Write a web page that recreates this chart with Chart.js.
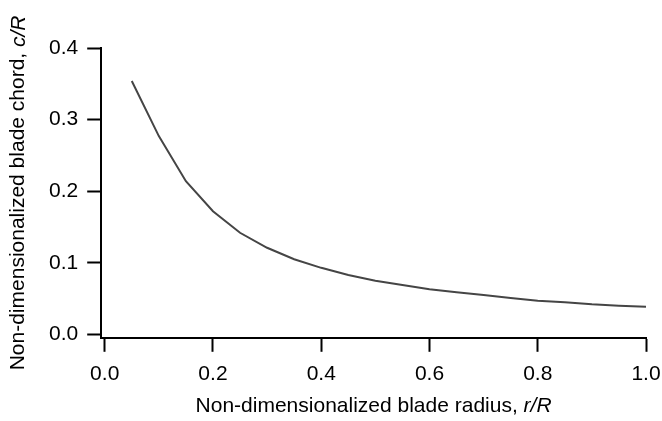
<!DOCTYPE html>
<html>
<head>
<meta charset="utf-8">
<script src="https://cdn.jsdelivr.net/npm/chart.js@4/dist/chart.umd.min.js"></script>
<style>
  html, body { margin: 0; padding: 0; background: #fff; }
  #wrap { width: 662px; height: 421px; position: relative; }
</style>
</head>
<body>
<div id="wrap"><canvas id="chordChart"></canvas></div>
<script>
// blade radius r/R and chord c/R
const radius = [0.05, 0.10, 0.15, 0.20, 0.25, 0.30, 0.35, 0.40, 0.45, 0.50,
                0.55, 0.60, 0.65, 0.70, 0.75, 0.80, 0.85, 0.90, 0.95, 1.00];
const chord = [0.354, 0.277, 0.214, 0.172, 0.142, 0.121, 0.105, 0.093, 0.083, 0.075,
               0.069, 0.063, 0.059, 0.055, 0.051, 0.047, 0.045, 0.042, 0.040, 0.0385];

const xTicks = [0.0, 0.2, 0.4, 0.6, 0.8, 1.0];
const yTicks = [0.0, 0.1, 0.2, 0.3, 0.4];

const xTitle = ['Non-dimensionalized blade radius, ', 'r/R'];
const yTitle = ['Non-dimensionalized blade chord, ', 'c/R'];

const FONT = '"Liberation Sans", Arial, Helvetica, sans-serif';
const SIZE = 21;

// draws an axis title where the last part is italic
function drawMixed(ctx, parts, cx, cy) {
    ctx.font = SIZE + 'px ' + FONT;
    const w0 = ctx.measureText(parts[0]).width;
    ctx.font = 'italic ' + SIZE + 'px ' + FONT;
    const w1 = ctx.measureText(parts[1]).width;
    let x = cx - (w0 + w1) / 2;
    ctx.textBaseline = 'middle';
    ctx.textAlign = 'left';
    ctx.fillStyle = '#000';
    ctx.font = SIZE + 'px ' + FONT;
    ctx.fillText(parts[0], x, cy);
    ctx.font = 'italic ' + SIZE + 'px ' + FONT;
    ctx.fillText(parts[1], x + w0, cy);
}

const axisTitles = {
    id: 'axisTitles',
    afterDraw(chart) {
        const ctx = chart.ctx;
        const a = chart.chartArea;
        ctx.save();
        drawMixed(ctx, xTitle, (a.left + a.right) / 2, a.bottom + 68);
        ctx.translate(a.left - 82.5, (a.top + a.bottom) / 2);
        ctx.rotate(-Math.PI / 2);
        drawMixed(ctx, yTitle, 0, 0);
        ctx.restore();
    }
};

function fixedTicks(list) {
    return function (scale) {
        scale.ticks = list.map(v => ({ value: v }));
    };
}

const axisGrid = {
    display: true,
    drawOnChartArea: false,
    drawTicks: true,
    tickLength: 14,
    tickWidth: 2,
    tickColor: '#000'
};

new Chart(document.getElementById('chordChart'), {
    type: 'line',
    data: {
        datasets: [{
            data: radius.map((r, i) => ({ x: r, y: chord[i] })),
            borderColor: '#454545',
            borderWidth: 2,
            pointRadius: 0,
            tension: 0,
            fill: false
        }]
    },
    options: {
        responsive: true,
        maintainAspectRatio: false,
        animation: false,
        layout: {
            padding: { left: 40, right: 16, top: 48, bottom: 24 }
        },
        plugins: {
            legend: { display: false },
            tooltip: { enabled: false }
        },
        scales: {
            x: {
                type: 'linear',
                min: -0.0065,
                max: 1.0,
                afterBuildTicks: fixedTicks(xTicks),
                // let the last label hang into the right margin
                afterFit: scale => { scale.paddingRight = 0; },
                border: { display: true, color: '#000', width: 2 },
                grid: axisGrid,
                ticks: {
                    padding: 10,
                    color: '#000',
                    font: { family: FONT, size: SIZE },
                    maxRotation: 0,
                    callback: v => v.toFixed(1)
                }
            },
            y: {
                type: 'linear',
                min: -0.0047,
                max: 0.4,
                afterBuildTicks: fixedTicks(yTicks),
                border: { display: true, color: '#000', width: 2 },
                grid: axisGrid,
                ticks: {
                    padding: 9,
                    color: '#000',
                    font: { family: FONT, size: SIZE },
                    callback: v => v.toFixed(1)
                }
            }
        }
    },
    plugins: [axisTitles]
});
</script>
</body>
</html>
